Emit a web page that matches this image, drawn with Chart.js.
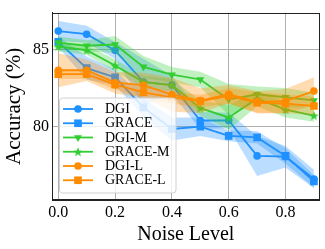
<!DOCTYPE html>
<html><head><meta charset="utf-8">
<script src="https://cdn.jsdelivr.net/npm/chart.js@4"></script>
<style>html,body{margin:0;padding:0;background:#fff}#wrap{width:325px;height:249px}</style>
</head><body><div id="wrap"><canvas id="c" width="325" height="249"></canvas></div>
<script>
const noise = [0.0, 0.1, 0.2, 0.3, 0.4, 0.5, 0.6, 0.7, 0.8, 0.9];
const seriesNames = ['DGI', 'GRACE', 'DGI-M', 'GRACE-M', 'DGI-L', 'GRACE-L'];
const dgi     = [86.2, 86.0, 84.95, 82.9, 82.7, 80.4, 80.4, 78.1, 78.05, 76.6];
const grace   = [85.5, 83.8, 83.2, 81.25, 79.85, 80.0, 79.4, 79.3, 78.1, 76.45];
const dgiM    = [85.45, 85.25, 85.33, 83.88, 83.37, 83.06, 81.76, 82.1, 81.9, 81.7];
const graceM  = [85.2, 84.96, 83.97, 82.89, 82.69, 81.2, 80.6, 81.82, 81.1, 80.72];
const dgiL    = [83.66, 83.66, 82.85, 82.69, 82.07, 81.69, 82.1, 81.61, 81.65, 82.31];
const graceL  = [83.41, 83.41, 82.73, 82.23, 81.9, 81.65, 82.0, 81.55, 81.49, 81.34];
const dgiStd    = [0.65, 0.55, 0.55, 1.5, 0.6, 0.55, 0.5, 1.3, 0.7, 0.6];
const graceStd  = [0.35, 0.75, 0.5, 0.6, 0.75, 0.6, 0.35, 0.4, 0.5, 0.4];
const dgiMStd   = [0.4, 0.35, 0.55, 0.7, 0.5, 0.5, 1.0, 0.5, 0.6, 0.5];
const graceMStd = [0.3, 0.3, 0.4, 0.4, 0.4, 0.5, 0.8, 0.5, 0.5, 0.4];
const dgiLStd   = [1.1, 0.7, 0.7, 0.8, 1.1, 0.8, 0.6, 0.7, 0.8, 0.9];
const graceLStd = [0.3, 0.3, 0.3, 0.4, 0.4, 0.4, 0.5, 0.7, 0.6, 0.6];
const xTicks = [0.0, 0.2, 0.4, 0.6, 0.8];
const yTicks = [80, 85];

const BLUE = [30,144,255], GREEN = [50,205,50], ORANGE = [255,140,0];
const rgb = (c,a) => a===undefined ? `rgb(${c[0]},${c[1]},${c[2]})` : `rgba(${c[0]},${c[1]},${c[2]},${a})`;

function starCanvas(color, size){
  const cv = document.createElement('canvas');
  cv.width = size; cv.height = size;
  const g = cv.getContext('2d');
  const cx = size/2, cy = size/2 + 0.5, R = size/2, r = R*0.42;
  g.beginPath();
  for (let i=0;i<10;i++){
    const ang = -Math.PI/2 + i*Math.PI/5;
    const rr = i%2===0 ? R : r;
    g.lineTo(cx + rr*Math.cos(ang), cy + rr*Math.sin(ang));
  }
  g.closePath(); g.fillStyle = color; g.fill();
  return cv;
}
const star = starCanvas(rgb(GREEN), 10);

const series = [
  {name: seriesNames[0], vals: dgi,    std: dgiStd,    col: BLUE,   style: 'circle',   radius: 3.8, rot: 0},
  {name: seriesNames[1], vals: grace,  std: graceStd,  col: BLUE,   style: 'rect',     radius: 5.4, rot: 0},
  {name: seriesNames[2], vals: dgiM,   std: dgiMStd,   col: GREEN,  style: 'triangle', radius: 4.6, rot: 180},
  {name: seriesNames[3], vals: graceM, std: graceMStd, col: GREEN,  style: star,       radius: 5,   rot: 0},
  {name: seriesNames[4], vals: dgiL,   std: dgiLStd,   col: ORANGE, style: 'circle',   radius: 3.8, rot: 0},
  {name: seriesNames[5], vals: graceL, std: graceLStd, col: ORANGE, style: 'rect',     radius: 5.4, rot: 0},
];

const datasets = [];
series.forEach((s, i) => {
  const kBand = 2*i, kLine = 2*i+1;
  const lowerIdx = datasets.length;
  datasets.push({
    label: s.name + ' lower', data: noise.map((x,j)=>({x, y: s.vals[j]-s.std[j]})),
    borderColor: 'transparent', borderWidth: 0, pointRadius: 0, fill: false, order: 100-kBand
  });
  datasets.push({
    label: s.name + ' upper', data: noise.map((x,j)=>({x, y: s.vals[j]+s.std[j]})),
    borderColor: 'transparent', borderWidth: 0, pointRadius: 0,
    fill: lowerIdx, backgroundColor: rgb(s.col, 0.3), order: 100-kBand
  });
  datasets.push({
    label: s.name, data: noise.map((x,j)=>({x, y: s.vals[j]})),
    borderColor: rgb(s.col), backgroundColor: rgb(s.col), borderWidth: 1.8,
    pointStyle: s.style, pointRadius: s.radius, pointRotation: s.rot,
    pointBorderWidth: 0, fill: false, order: 100-kLine
  });
});

const legendPlugin = {
  id: 'insideLegend',
  afterDatasetsDraw(chart){
    const ctx = chart.ctx;
    ctx.save();
    const x0 = 59.5, y0 = 98, w = 116.5, h = 95, r = 3;
    ctx.beginPath();
    ctx.roundRect(x0, y0, w, h, r);
    ctx.fillStyle = 'rgba(255,255,255,0.8)'; ctx.fill();
    ctx.strokeStyle = '#d0d0d0'; ctx.lineWidth = 1; ctx.stroke();
    series.forEach((s, i) => {
      const y = 109 + i*14.25;
      ctx.strokeStyle = rgb(s.col); ctx.lineWidth = 1.8;
      ctx.beginPath(); ctx.moveTo(63, y); ctx.lineTo(93, y); ctx.stroke();
      ctx.fillStyle = rgb(s.col);
      Chart.helpers.drawPoint(ctx, {pointStyle: s.style, radius: s.radius, rotation: s.rot, borderWidth: 0}, 78, y);
      ctx.fillStyle = '#000';
      ctx.font = '14px "Liberation Serif", "DejaVu Serif", serif';
      ctx.textBaseline = 'middle'; ctx.textAlign = 'left';
      ctx.fillText(s.name, 105, y + 0.5);
    });
    ctx.restore();
  },
  afterDraw(chart){
    const a = chart.chartArea, ctx = chart.ctx;
    ctx.save();
    ctx.strokeStyle = '#222'; ctx.lineWidth = 1;
    ctx.strokeRect(Math.round(a.left)+0.5, Math.round(a.top)+0.5, Math.round(a.right-a.left)-1, Math.round(a.bottom-a.top)-1);
    ctx.restore();
  }
};

const serif = '"Liberation Serif", "DejaVu Serif", serif';
new Chart(document.getElementById('c'), {
  type: 'line',
  data: { datasets },
  options: {
    responsive: false, animation: false,
    layout: { padding: { left: 0, right: 4, top: 4, bottom: 0 } },
    plugins: { legend: { display: false }, tooltip: { enabled: false } },
    scales: {
      x: {
        type: 'linear', min: -0.022, max: 0.92,
        afterFit(s){ s.height = 49; },
        afterBuildTicks(s){ s.ticks = xTicks.map(v => ({value: v})); },
        ticks: { includeBounds: false, padding: 3, color: '#000', font: { family: serif, size: 16 }, callback: v => Number(v).toFixed(1) },
        grid: { color: '#b0b0b0', lineWidth: 1, drawTicks: false },
        border: { color: '#222', width: 1 },
        title: { display: true, text: 'Noise Level', color: '#000', font: { family: serif, size: 20 }, padding: { top: 0, bottom: 2 } }
      },
      y: {
        type: 'linear', min: 75.24, max: 87.4,
        afterFit(s){ s.width = 52; },
        afterBuildTicks(s){ s.ticks = yTicks.map(v => ({value: v})); },
        ticks: { includeBounds: false, padding: 3, color: '#000', font: { family: serif, size: 16 }, callback: v => String(v) },
        grid: { color: '#b0b0b0', lineWidth: 1, drawTicks: false },
        border: { color: '#222', width: 1 },
        title: { display: true, text: 'Accuracy (%)', color: '#000', font: { family: serif, size: 21 }, padding: { top: 2, bottom: 0 } }
      }
    }
  },
  plugins: [legendPlugin]
});
</script></body></html>
